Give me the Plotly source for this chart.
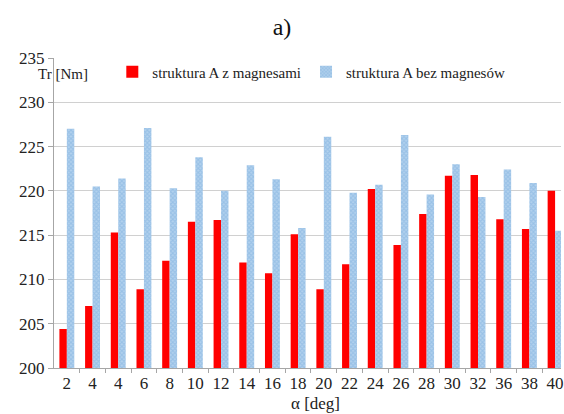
import plotly.graph_objects as go

categories = ["2", "4", "4", "6", "8", "10", "12", "14", "16", "18",
              "20", "22", "24", "26", "28", "30", "32", "36", "38", "40"]
z_magnesami = [204.4, 207.0, 215.3, 208.9, 212.1, 216.5, 216.7, 211.9, 210.7, 215.1,
               208.9, 211.7, 220.2, 213.9, 217.4, 221.7, 221.8, 216.8, 215.7, 220.0]
bez_magnesow = [227.0, 220.5, 221.4, 227.1, 220.3, 223.8, 220.0, 222.9, 221.3, 215.8,
                226.1, 219.8, 220.7, 226.3, 219.6, 223.0, 219.3, 222.4, 220.9, 215.5]

pos = list(range(len(categories)))
boundaries = [p + 0.5 for p in pos]
font = "Liberation Serif"

fig = go.Figure()
fig.add_trace(go.Bar(
    x=pos, y=z_magnesami, name="struktura A z magnesami",
    marker=dict(color="#FF0000", line=dict(width=0)),
))
fig.add_trace(go.Bar(
    x=pos, y=bez_magnesow, name="struktura A bez magnesów",
    marker=dict(color="#B3D2EE", line=dict(width=0),
                pattern=dict(shape="x", fgcolor="#80B0DD", size=3, solidity=0.6)),
))

fig.update_layout(
    width=564, height=414,
    margin=dict(l=54, r=0, t=58, b=46),
    paper_bgcolor="white", plot_bgcolor="white",
    font=dict(family=font, size=16, color="#222222"),
    barmode="group", bargap=0.42, bargroupgap=0,
    title=dict(text="a)", x=0.5, xanchor="center", y=0.935, yanchor="middle",
               font=dict(family=font, size=24, color="#111111")),
    showlegend=True,
    legend=dict(orientation="h", x=0.115, xanchor="left", y=0.955, yanchor="middle",
                font=dict(family=font, size=15, color="#222222"),
                bgcolor="rgba(0,0,0,0)", itemwidth=30, tracegroupgap=0),
    xaxis=dict(
        tickmode="array", tickvals=pos, ticktext=categories,
        range=[-0.5, 19.23],
        showgrid=False, showline=True, linecolor="#A6A6A6", linewidth=1,
        ticks="", tickfont=dict(family=font, size=17),
        ticklabeloverflow="allow",
        minor=dict(tickmode="array", tickvals=boundaries, ticks="outside",
                   ticklen=4, tickcolor="#A6A6A6", showgrid=False),
    ),
    yaxis=dict(
        range=[200, 235], dtick=5,
        showgrid=True, gridcolor="#D0D0D0", gridwidth=1.3,
        showline=True, linecolor="#A6A6A6", linewidth=1,
        ticks="outside", ticklen=5, tickcolor="#A6A6A6",
        tickfont=dict(family=font, size=17),
        zeroline=False,
    ),
    annotations=[
        dict(text="Tr [Nm]", xref="paper", yref="paper", x=-0.035, y=0.948,
             xanchor="left", yanchor="middle", showarrow=False,
             font=dict(family=font, size=15, color="#222222")),
        dict(text="α [deg]", xref="paper", yref="paper", x=0.515, y=-0.113,
             xanchor="center", yanchor="middle", showarrow=False,
             font=dict(family=font, size=17, color="#222222")),
    ],
)

fig.write_html("out.html")
